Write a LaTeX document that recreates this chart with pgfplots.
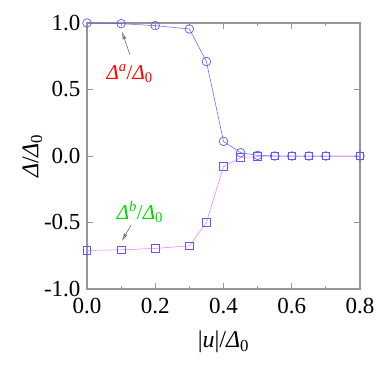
\documentclass[border=0pt]{standalone}
\usepackage{fontspec}
\setmainfont{Liberation Serif}
\usepackage{pgfplots}
\pgfplotsset{compat=1.18}
\usetikzlibrary{arrows.meta}
\definecolor{mkblue}{RGB}{90,90,255}
\definecolor{lnmag}{RGB}{255,110,255}
\definecolor{axgray}{RGB}{150,150,150}
\newcommand{\D}{\textit{Δ}}

\begin{document}
\begin{tikzpicture}
\begin{axis}[
  scale only axis, width=273pt, height=266pt,
  xmin=0, xmax=0.8, ymin=-1, ymax=1,
  xtick={0,0.2,...,0.8}, minor xtick={0.1,0.3,0.5,0.7},
  ytick={-1,-0.5,0,0.5,1},
  tick align=inside, major tick length=6pt, minor tick length=3pt,
  axis line style={axgray, line width=1.2pt},
  tick style={axgray, line width=0.8pt},
  /pgf/number format/fixed, /pgf/number format/fixed zerofill,
  /pgf/number format/precision=1,
  /pgf/number format/assume math mode=true,
  tick label style={font=\fontsize{23}{27}\selectfont},
  xticklabel style={yshift=-6pt},
  yticklabel style={xshift=-3pt},
  label style={font=\fontsize{24}{28}\selectfont},
  xlabel={|\textit{u}|/\D\textsubscript{0}},
  ylabel={\D/\D\textsubscript{0}},
  xlabel style={yshift=-10pt},
  ylabel style={yshift=-5pt},
  clip=false,
]
\addplot[color=mkblue, line width=0.5pt, mark=o, mark size=4.3pt,
  mark options={fill=white, draw=mkblue, line width=0.7pt}]
  coordinates {(0,1.0) (0.1,0.995) (0.2,0.98) (0.3,0.955) (0.35,0.71) (0.4,0.11)
  (0.45,0.025) (0.5,0.005) (0.55,0.0) (0.6,0.0) (0.65,0.0) (0.7,0.0) (0.8,0.0)};
\addplot[color=lnmag, line width=0.5pt, mark=square, mark size=3.8pt,
  mark options={fill=white, draw=mkblue, line width=0.7pt}]
  coordinates {(0,-0.71) (0.1,-0.705) (0.2,-0.695) (0.3,-0.675) (0.35,-0.50) (0.4,-0.08)
  (0.45,-0.012) (0.5,-0.003) (0.55,0.0) (0.6,0.0) (0.65,0.0) (0.7,0.0) (0.8,0.0)};
\node[red, font=\fontsize{21}{24}\selectfont] at (axis cs:0.125,0.62) {\D\textsuperscript{\textit{a}}/\D\textsubscript{0}};
\draw[-{Stealth[open,length=8pt,width=4pt]}, gray!70!black, line width=0.5pt] (axis cs:0.126,0.76) -- (axis cs:0.103,0.93);
\node[green!85!black, font=\fontsize{21}{24}\selectfont] at (axis cs:0.155,-0.42) {\D\textsuperscript{\textit{b}}/\D\textsubscript{0}};
\draw[-{Stealth[open,length=8pt,width=4pt]}, gray!70!black, line width=0.5pt] (axis cs:0.129,-0.52) -- (axis cs:0.103,-0.635);
\end{axis}
\useasboundingbox ([shift={(-87pt,-78pt)}]current axis.south west) rectangle ([shift={(22pt,23pt)}]current axis.north east);
\end{tikzpicture}
\end{document}
